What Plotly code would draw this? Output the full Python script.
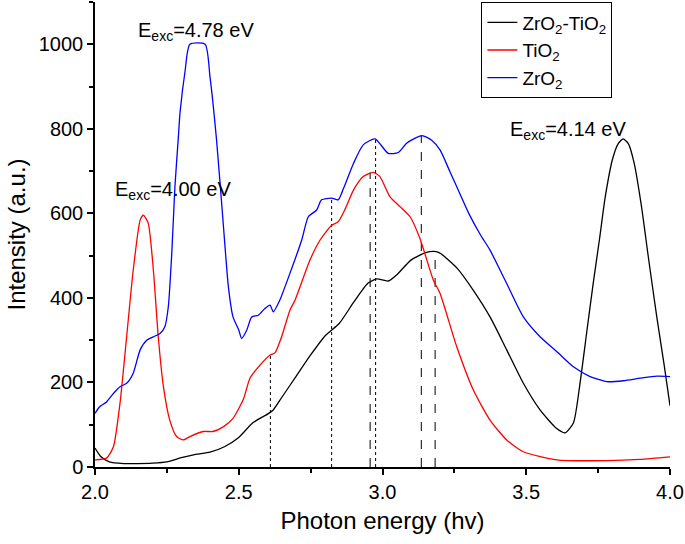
import plotly.graph_objects as go

# ZrO2-TiO2 (black)
x_zt = [2.00, 2.02, 2.05, 2.10, 2.15, 2.20, 2.25, 2.30, 2.35, 2.40, 2.45, 2.50, 2.55, 2.60, 2.62,
        2.65, 2.70, 2.75, 2.80, 2.85, 2.90, 2.95, 2.98, 3.02, 3.05, 3.10, 3.15, 3.18, 3.20, 3.26,
        3.316, 3.374, 3.432, 3.49, 3.548, 3.606, 3.635, 3.664, 3.687, 3.71, 3.733, 3.755, 3.775,
        3.80, 3.82, 3.837, 3.855, 3.875, 3.90, 3.925, 3.954, 3.98, 4.00]
y_zt = [45, 25, 12, 8, 8, 9, 12, 22, 30, 35, 48, 70, 105, 125, 135,
        165, 215, 265, 310, 340, 390, 435, 445, 440, 455, 490, 507, 510, 506, 470,
        418, 355, 277, 198, 135, 91, 81, 104, 198, 317, 435, 540, 640,
        728, 765, 776, 765, 720, 620, 495, 355, 240, 145]

# TiO2 (red)
x_ti = [2.00, 2.04, 2.064, 2.087, 2.11, 2.133, 2.157, 2.168, 2.185, 2.203, 2.22, 2.238, 2.26,
        2.284, 2.307, 2.33, 2.377, 2.41, 2.446, 2.48, 2.516, 2.539, 2.574, 2.609, 2.626, 2.649,
        2.678, 2.696, 2.748, 2.783, 2.823, 2.846, 2.870, 2.899, 2.933, 2.968, 2.991, 3.026, 3.061,
        3.096, 3.13, 3.177, 3.2, 3.258, 3.316, 3.374, 3.432, 3.49, 3.606, 3.78, 3.896, 4.00]
y_ti = [17, 21, 48, 151, 308, 466, 584, 596, 577, 466, 308, 190, 111,
        72, 64, 72, 84, 84, 95, 115, 160, 210, 241, 265, 270, 308,
        371, 395, 490, 537, 572, 580, 610, 655, 687, 697, 687, 639, 616,
        592, 541, 442, 411, 285, 182, 111, 64, 36, 17, 15, 18, 24]

# ZrO2 (blue)
x_zr = [2.00, 2.017, 2.04, 2.064, 2.087, 2.11, 2.133, 2.157, 2.18, 2.203, 2.226, 2.243, 2.255,
        2.267, 2.278, 2.29, 2.296, 2.313, 2.33, 2.383, 2.40, 2.423, 2.446, 2.464, 2.48, 2.50,
        2.51, 2.528, 2.545, 2.568, 2.591, 2.609, 2.62, 2.643, 2.678, 2.719, 2.742, 2.771, 2.788,
        2.823, 2.846, 2.865, 2.899, 2.933, 2.974, 3.02, 3.055, 3.084, 3.137, 3.171, 3.20, 3.235,
        3.27, 3.30, 3.34, 3.374, 3.432, 3.49, 3.548, 3.606, 3.664, 3.722, 3.78, 3.838, 3.896,
        3.954, 4.00]
y_zr = [127, 143, 154, 174, 190, 198, 222, 277, 300, 308, 316, 332, 379,
        505, 663, 781, 840, 935, 1000, 1000, 923, 772, 576, 426, 355, 324,
        304, 324, 355, 359, 375, 383, 367, 395, 458, 537, 592, 608, 632,
        636, 632, 660, 718, 762, 776, 742, 744, 766, 784, 773, 750, 698,
        645, 600, 550, 513, 434, 355, 308, 273, 237, 214, 202, 204, 210,
        215, 214]

# Marker lines
vline_x = [2.61, 2.823, 2.957, 2.976, 3.135, 3.183]
vline_top = [268, 636, 697, 778, 785, 510]
vline_dash = ["dot", "dot", "dash", "dot", "dash", "dash"]

# Annotations
ann_text = ["E<sub>exc</sub>=4.78 eV", "E<sub>exc</sub>=4.00 eV", "E<sub>exc</sub>=4.14 eV"]
ann_x = [2.351, 2.271, 3.645]
ann_y = [1030, 655, 797]

font_family = "Liberation Sans, Arial, sans-serif"

fig = go.Figure()
for xv, yt, d in zip(vline_x, vline_top, vline_dash):
    fig.add_trace(go.Scatter(x=[xv, xv], y=[0, yt], mode="lines",
                             line=dict(color="black", width=1, dash=d),
                             showlegend=False, hoverinfo="skip"))

fig.add_trace(go.Scatter(x=x_zt, y=y_zt, mode="lines", name="ZrO<sub>2</sub>-TiO<sub>2</sub>",
                         line=dict(color="black", width=1.3, shape="spline", smoothing=0.6)))
fig.add_trace(go.Scatter(x=x_ti, y=y_ti, mode="lines", name="TiO<sub>2</sub>",
                         line=dict(color="#ff0000", width=1.3, shape="spline", smoothing=0.6)))
fig.add_trace(go.Scatter(x=x_zr, y=y_zr, mode="lines", name="ZrO<sub>2</sub>",
                         line=dict(color="#0000ff", width=1.3, shape="spline", smoothing=0.6)))

for t, ax_, ay_ in zip(ann_text, ann_x, ann_y):
    fig.add_annotation(x=ax_, y=ay_, text=t, showarrow=False, xanchor="center", yanchor="middle",
                       font=dict(size=20, color="black", family=font_family))

fig.update_layout(
    width=685, height=544,
    margin=dict(l=95, r=15, t=2, b=77),
    plot_bgcolor="white", paper_bgcolor="white",
    font=dict(family=font_family, color="black", size=19),
    legend=dict(x=0.672, y=0.999, xanchor="left", yanchor="top",
                bordercolor="black", borderwidth=1, bgcolor="white",
                font=dict(size=19), tracegroupgap=0),
    xaxis=dict(range=[2, 4], showgrid=False, zeroline=False, showline=True, linecolor="black",
               linewidth=1.5, ticks="outside", tickwidth=1.5, ticklen=6, tickcolor="black",
               tickvals=[2.0, 2.5, 3.0, 3.5, 4.0], ticktext=["2.0", "2.5", "3.0", "3.5", "4.0"],
               tickfont=dict(size=20),
               minor=dict(tickvals=[2.25, 2.75, 3.25, 3.75], ticks="outside", ticklen=4,
                          tickwidth=1.5, tickcolor="black"),
               title=dict(text="Photon energy (hv)", font=dict(size=24), standoff=10)),
    yaxis=dict(range=[0, 1100], showgrid=False, zeroline=False, showline=True, linecolor="black",
               linewidth=1.5, ticks="outside", tickwidth=1.5, ticklen=6, tickcolor="black",
               tickvals=[0, 200, 400, 600, 800, 1000], tickfont=dict(size=20),
               minor=dict(tickvals=[100, 300, 500, 700, 900, 1100], ticks="outside", ticklen=4,
                          tickwidth=1.5, tickcolor="black"),
               title=dict(text="Intensity (a.u.)", font=dict(size=24), standoff=6)),
)

fig.write_html("out.html", config={"displayModeBar": False},
               post_script="document.body.style.margin='0px';")
